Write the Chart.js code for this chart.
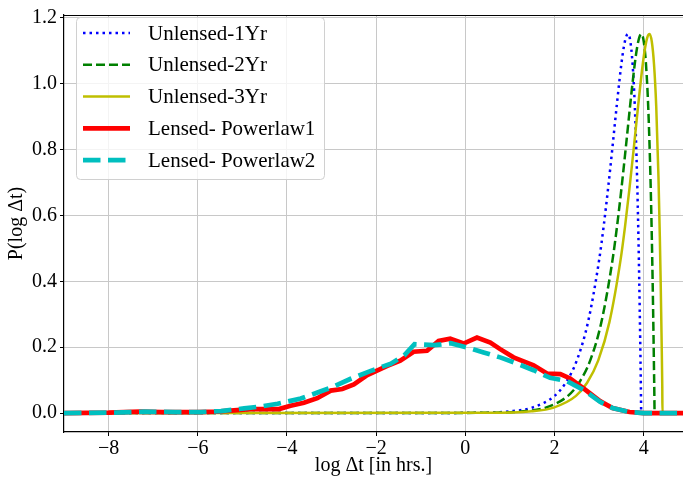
<!DOCTYPE html>
<html>
<head>
<meta charset="utf-8">
<script src="https://cdn.jsdelivr.net/npm/chart.js@4"></script>
<style>
  html, body { margin: 0; padding: 0; background: #fff; }
</style>
</head>
<body>
<canvas id="dtChart" width="683" height="487"></canvas>
<script>
/* ══════════════════════════════
   DATA
══════════════════════════════ */
const xTicks = [-8, -6, -4, -2, 0, 2, 4];
const yTicks = [0, 0.2, 0.4, 0.6, 0.8, 1.0, 1.2];

const seriesLabels = ['Unlensed-1Yr', 'Unlensed-2Yr', 'Unlensed-3Yr', 'Lensed- Powerlaw1', 'Lensed- Powerlaw2'];

const unl1X = [-9, 0, 1, 1.5, 2, 2.25, 2.5, 2.75, 3, 3.1, 3.2, 3.3, 3.4, 3.5, 3.55, 3.6, 3.65, 3.7, 3.75, 3.8, 3.85, 3.88, 3.9, 3.92, 3.935, 3.943, 5];
const unl1Y = [0, 0.0005, 0.0053, 0.0166, 0.052, 0.092, 0.160, 0.276, 0.465, 0.566, 0.682, 0.809, 0.941, 1.062, 1.109, 1.141, 1.151, 1.128, 1.059, 0.930, 0.717, 0.538, 0.393, 0.225, 0.083, 0, 0];

const unl2X = [-9, 0.3, 1.3, 1.8, 2.3, 2.55, 2.8, 3.05, 3.3, 3.4, 3.5, 3.6, 3.7, 3.8, 3.85, 3.9, 3.95, 4.0, 4.05, 4.1, 4.15, 4.18, 4.2, 4.22, 4.235, 4.244, 5];
const unl2Y = [0, 0.0005, 0.0053, 0.0166, 0.052, 0.092, 0.160, 0.276, 0.465, 0.566, 0.682, 0.809, 0.941, 1.062, 1.109, 1.141, 1.151, 1.128, 1.059, 0.930, 0.717, 0.538, 0.393, 0.225, 0.083, 0, 0];

const unl3X = [-9, 0.48, 1.48, 1.98, 2.48, 2.73, 2.98, 3.23, 3.48, 3.58, 3.68, 3.78, 3.88, 3.98, 4.03, 4.08, 4.13, 4.18, 4.23, 4.28, 4.33, 4.36, 4.38, 4.40, 4.415, 4.42, 5];
const unl3Y = [0, 0.0005, 0.0053, 0.0166, 0.052, 0.092, 0.160, 0.276, 0.465, 0.566, 0.682, 0.809, 0.941, 1.062, 1.109, 1.141, 1.151, 1.128, 1.059, 0.930, 0.717, 0.538, 0.393, 0.225, 0.083, 0, 0];

const pl1X = [-9, -8, -7.3, -6.8, -6, -5.56, -5.19, -4.82, -4.18, -3.92, -3.62, -3.32, -3.02, -2.76, -2.50, -2.20, -1.75, -1.46, -1.16, -0.86, -0.60, -0.34, -0.04, 0.26, 0.56, 0.78, 1.08, 1.53, 1.83, 2.13, 2.35, 2.65, 3.02, 3.30, 3.68, 4.0, 5];
const pl1Y = [0, 0.001, 0.004, 0.003, 0.003, 0.004, 0.008, 0.012, 0.012, 0.022, 0.031, 0.045, 0.068, 0.073, 0.087, 0.115, 0.143, 0.159, 0.186, 0.189, 0.219, 0.226, 0.211, 0.229, 0.214, 0.194, 0.169, 0.145, 0.120, 0.118, 0.105, 0.075, 0.036, 0.015, 0.003, 0, 0];

const pl2X = [-9, -8, -7.2, -6.5, -5.93, -5.48, -4.96, -4.64, -4.21, -3.69, -3.24, -2.94, -2.57, -2.12, -1.67, -1.37, -1.14, -0.70, -0.33, 0.04, 0.41, 0.78, 1.16, 1.53, 1.90, 2.28, 2.65, 3.02, 3.30, 3.68, 4.0, 5];
const pl2Y = [0, 0.001, 0.004, 0.003, 0.003, 0.006, 0.014, 0.019, 0.028, 0.044, 0.066, 0.081, 0.104, 0.128, 0.150, 0.175, 0.209, 0.206, 0.212, 0.199, 0.184, 0.169, 0.150, 0.130, 0.107, 0.097, 0.070, 0.034, 0.015, 0.003, 0, 0];

const pts = (xs, ys) => xs.map((x, i) => ({ x: x, y: ys[i] }));

/* ══════════════════════════════
   PLUGIN: top spine + boxed legend
══════════════════════════════ */
const frameLegend = {
  id: 'frameLegend',
  afterDraw(chart) {
    const { ctx, chartArea: a } = chart;
    ctx.save();
    ctx.strokeStyle = '#000';
    ctx.lineWidth = 1.2;
    ctx.beginPath();
    ctx.moveTo(a.left, a.top + 0.5);
    ctx.lineTo(a.right, a.top + 0.5);
    ctx.stroke();

    // legend frame
    const bx = 76.5, by = 17.5, bw = 248, bh = 162, r = 4;
    ctx.beginPath();
    ctx.moveTo(bx + r, by);
    ctx.arcTo(bx + bw, by, bx + bw, by + bh, r);
    ctx.arcTo(bx + bw, by + bh, bx, by + bh, r);
    ctx.arcTo(bx, by + bh, bx, by, r);
    ctx.arcTo(bx, by, bx + bw, by, r);
    ctx.closePath();
    ctx.fillStyle = 'rgba(255,255,255,0.8)';
    ctx.fill();
    ctx.strokeStyle = '#d0d0d0';
    ctx.lineWidth = 1;
    ctx.stroke();

    chart.data.datasets.forEach((ds, i) => {
      const y = 33 + i * 31.8;
      ctx.setLineDash(ds.borderDash || []);
      ctx.strokeStyle = ds.borderColor;
      ctx.lineWidth = ds.borderWidth;
      ctx.beginPath();
      ctx.moveTo(83, y);
      ctx.lineTo(130, y);
      ctx.stroke();
      ctx.setLineDash([]);
      ctx.fillStyle = '#000';
      ctx.font = '21px "Liberation Serif"';
      ctx.textBaseline = 'middle';
      ctx.fillText(ds.label, 148, y + 1);
    });
    ctx.restore();
  }
};

/* ══════════════════════════════
   CHART
══════════════════════════════ */
const ctx = document.getElementById('dtChart').getContext('2d');

new Chart(ctx, {
  type: 'line',
  data: {
    datasets: [
      {
        label: seriesLabels[0],
        data: pts(unl1X, unl1Y),
        borderColor: '#0000ff',
        borderWidth: 2.5,
        borderDash: [2.5, 4],
        cubicInterpolationMode: 'monotone',
        order: 5
      },
      {
        label: seriesLabels[1],
        data: pts(unl2X, unl2Y),
        borderColor: '#008000',
        borderWidth: 2.5,
        borderDash: [9, 4],
        cubicInterpolationMode: 'monotone',
        order: 4
      },
      {
        label: seriesLabels[2],
        data: pts(unl3X, unl3Y),
        borderColor: '#bfbf00',
        borderWidth: 2.5,
        cubicInterpolationMode: 'monotone',
        order: 3
      },
      {
        label: seriesLabels[3],
        data: pts(pl1X, pl1Y),
        borderColor: '#ff0000',
        borderWidth: 4.7,
        order: 2
      },
      {
        label: seriesLabels[4],
        data: pts(pl2X, pl2Y),
        borderColor: '#00bfbf',
        borderWidth: 4.7,
        borderDash: [17.5, 7.5],
        order: 1
      }
    ]
  },
  options: {
    responsive: false,
    animation: false,
    layout: { padding: { top: 5, right: 0, left: 0, bottom: 0 } },
    elements: { point: { radius: 0 }, line: { tension: 0, fill: false } },
    plugins: {
      legend: { display: false },
      tooltip: { enabled: false }
    },
    scales: {
      x: {
        type: 'linear',
        min: -9,
        max: 4.88,
        afterBuildTicks: s => { s.ticks = xTicks.map(v => ({ value: v })); },
        afterFit: s => { s.height = 55; },
        grid: { color: '#c8c8c8', lineWidth: 1, tickLength: 4, tickColor: '#000' },
        border: { display: true, color: '#000', width: 1.2 },
        ticks: {
          padding: 1,
          maxRotation: 0,
          color: '#000',
          font: { family: 'Liberation Serif', size: 20 },
          callback: v => (v < 0 ? '\u2212' + Math.abs(v) : String(v))
        },
        title: {
          display: true,
          text: 'log \u0394t [in hrs.]',
          color: '#000',
          font: { family: 'Liberation Serif', size: 20 },
          padding: { top: 0, bottom: 9 }
        }
      },
      y: {
        type: 'linear',
        min: -0.0576,
        max: 1.2086,
        afterBuildTicks: s => { s.ticks = yTicks.map(v => ({ value: v })); },
        afterFit: s => { s.width = 64; },
        grid: { color: '#c8c8c8', lineWidth: 1, tickLength: 4, tickColor: '#000' },
        border: { display: true, color: '#000', width: 1.2 },
        ticks: {
          padding: 3,
          color: '#000',
          font: { family: 'Liberation Serif', size: 20 },
          callback: v => v.toFixed(1)
        },
        title: {
          display: true,
          text: 'P(log \u0394t)',
          color: '#000',
          font: { family: 'Liberation Serif', size: 20 },
          padding: { top: 5, bottom: 0 }
        }
      }
    }
  },
  plugins: [frameLegend]
});
</script>
</body>
</html>
